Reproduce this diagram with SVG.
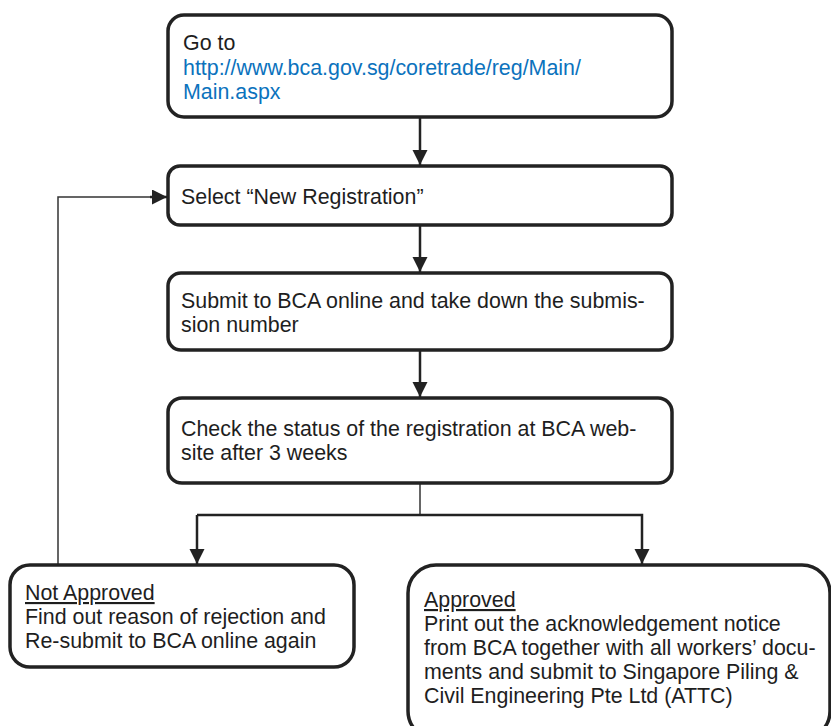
<svg xmlns="http://www.w3.org/2000/svg" width="831" height="726" viewBox="0 0 831 726">
<defs>
<marker id="arr" markerUnits="userSpaceOnUse" markerWidth="16" markerHeight="16" refX="15" refY="7.5" orient="auto">
<path d="M0,0 L15,7.5 L0,15 z" fill="#222"/>
</marker>
</defs>
<style>
.box{fill:#fff;stroke:#222;stroke-width:3.5}
.t{font-family:"Liberation Sans",Arial,sans-serif;font-size:21.4px;fill:#1e1e1e}
.link{fill:#0b72bd}
.u{text-decoration:underline}
.c{fill:none;stroke:#222;stroke-width:2.5}
.thin{fill:none;stroke:#333;stroke-width:1.5}
</style>
<rect width="831" height="726" fill="#fff"/>
<g id="connectors">
<line class="c" x1="420" y1="117" x2="420" y2="165" marker-end="url(#arr)"/>
<line class="c" x1="420" y1="225" x2="420" y2="272" marker-end="url(#arr)"/>
<line class="c" x1="420" y1="350" x2="420" y2="397" marker-end="url(#arr)"/>
<line class="thin" x1="420" y1="483" x2="420" y2="515"/>
<polyline class="c" points="197,515 642,515 642,564" marker-end="url(#arr)"/>
<line class="c" x1="197" y1="515" x2="197" y2="564" marker-end="url(#arr)"/>
<polyline class="thin" points="58,564 58,197 152,197"/>
<line class="c" x1="150" y1="197" x2="167" y2="197" stroke-width="1.5" marker-end="url(#arr)"/>
</g>
<g id="node-goto">
<rect class="box" x="168" y="15" width="504" height="102" rx="16"/>
<text class="t" x="183" y="50">Go to</text>
<text class="t link" x="183" y="75">http://www.bca.gov.sg/coretrade/reg/Main/</text>
<text class="t link" x="183" y="99">Main.aspx</text>
</g>
<g id="node-select">
<rect class="box" x="168" y="166" width="504" height="59" rx="12"/>
<text class="t" x="181" y="204">Select “New Registration”</text>
</g>
<g id="node-submit">
<rect class="box" x="168" y="273" width="504" height="77" rx="13"/>
<text class="t" x="181" y="308">Submit to BCA online and take down the submis-</text>
<text class="t" x="181" y="332">sion number</text>
</g>
<g id="node-check">
<rect class="box" x="168" y="398" width="504" height="85" rx="14"/>
<text class="t" x="181" y="436">Check the status of the registration at BCA web-</text>
<text class="t" x="181" y="460">site after 3 weeks</text>
</g>
<g id="node-not-approved">
<rect class="box" x="10" y="565" width="344" height="102" rx="20"/>
<text class="t u" x="25" y="600">Not Approved</text>
<text class="t" x="25" y="624">Find out reason of rejection and</text>
<text class="t" x="25" y="648">Re-submit to BCA online again</text>
</g>
<g id="node-approved">
<rect class="box" x="408" y="565" width="422" height="174" rx="28"/>
<text class="t u" x="424" y="607">Approved</text>
<text class="t" x="424" y="631">Print out the acknowledgement notice</text>
<text class="t" x="424" y="655">from BCA together with all workers’ docu-</text>
<text class="t" x="424" y="679">ments and submit to Singapore Piling &amp;</text>
<text class="t" x="424" y="703">Civil Engineering Pte Ltd (ATTC)</text>
</g>
</svg>
